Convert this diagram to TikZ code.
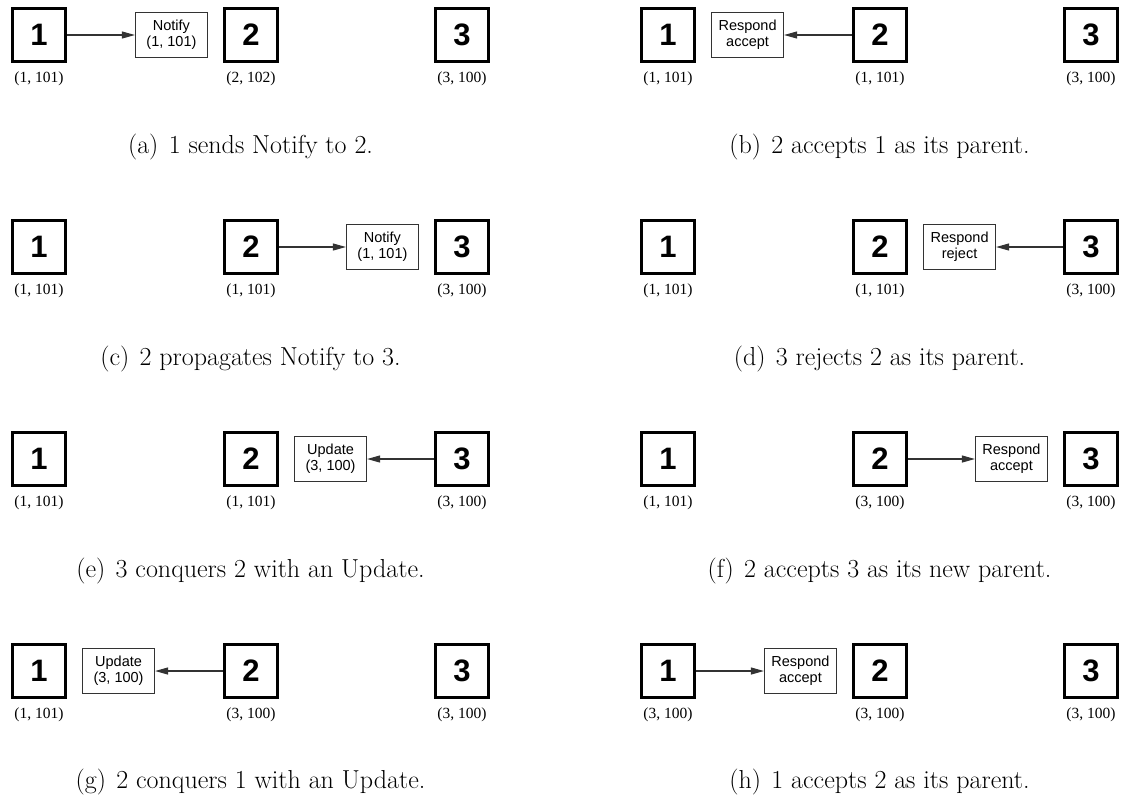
\documentclass[tikz,border=0pt]{standalone}
\usepackage{fontspec}
\newfontfamily\arialfont{Liberation Sans}
\newfontfamily\timesfont{Liberation Serif}
\usetikzlibrary{positioning,arrows.meta}
\definecolor{ndcinza}{HTML}{333333}
\tikzset{
  ndno/.style={draw=black, line width=2.7pt, minimum width=53.3pt, minimum height=53.3pt,
               inner sep=0pt, font=\arialfont\bfseries\fontsize{31}{31}\selectfont},
  ndmsg/.style={draw=ndcinza, line width=1.1pt, minimum width=72pt, minimum height=45pt,
               inner sep=3pt, align=center, font=\arialfont\fontsize{14.5}{16}\selectfont},
  ndseta/.style={-{Triangle[length=13pt,width=7pt]}, line width=1.1pt, draw=ndcinza},
  ndrotulo/.style={font=\timesfont\fontsize{15.5}{15.5}\selectfont, inner sep=0pt, anchor=north},
  ndlegenda/.style={font=\fontsize{26}{28}\selectfont, inner sep=0pt},
}
\newcommand{\sublabel}[1]{(#1)\hspace{0.4em}}

\begin{document}
\begin{tikzpicture}[x=1pt, y=1pt,
            lb/.style={ndrotulo, below=9pt of #1}
        ]
            \useasboundingbox (0,0) rectangle (1126,-796);
            % (a)
            \node[ndno] (a1) at (39,-35) {1};
            \node[ndno] (a2) at (251,-35) {2};
            \node[ndno] (a3) at (462,-35) {3};
            \node[lb=a1] (a1l) {(1, 101)};
            \node[lb=a2] (a2l) {(2, 102)};
            \node[lb=a3] (a3l) {(3, 100)};
            \node[ndmsg, left=15pt of a2] (am) {Notify\\(1, 101)};
            \draw[ndseta] (a1) -- (am);
            \node[ndlegenda] (ac) at (250.5,-147) {\sublabel{a}1 sends Notify to 2.};
            % (b)
            \node[ndno] (b1) at (668,-35) {1};
            \node[ndno] (b2) at (880,-35) {2};
            \node[ndno] (b3) at (1091,-35) {3};
            \node[lb=b1] (b1l) {(1, 101)};
            \node[lb=b2] (b2l) {(1, 101)};
            \node[lb=b3] (b3l) {(3, 100)};
            \node[ndmsg, right=15pt of b1] (bm) {Respond\\accept};
            \draw[ndseta] (b2) -- (bm);
            \node[ndlegenda] (bc) at (879.5,-147) {\sublabel{b}2 accepts 1 as its parent.};
            % (c)
            \node[ndno] (c1) at (39,-247) {1};
            \node[ndno] (c2) at (251,-247) {2};
            \node[ndno] (c3) at (462,-247) {3};
            \node[lb=c1] (c1l) {(1, 101)};
            \node[lb=c2] (c2l) {(1, 101)};
            \node[lb=c3] (c3l) {(3, 100)};
            \node[ndmsg, left=15pt of c3] (cm) {Notify\\(1, 101)};
            \draw[ndseta] (c2) -- (cm);
            \node[ndlegenda] (cc) at (250.5,-359) {\sublabel{c}2 propagates Notify to 3.};
            % (d)
            \node[ndno] (d1) at (668,-247) {1};
            \node[ndno] (d2) at (880,-247) {2};
            \node[ndno] (d3) at (1091,-247) {3};
            \node[lb=d1] (d1l) {(1, 101)};
            \node[lb=d2] (d2l) {(1, 101)};
            \node[lb=d3] (d3l) {(3, 100)};
            \node[ndmsg, right=15pt of d2] (dm) {Respond\\reject};
            \draw[ndseta] (d3) -- (dm);
            \node[ndlegenda] (dc) at (879.5,-359) {\sublabel{d}3 rejects 2 as its parent.};
            % (e)
            \node[ndno] (e1) at (39,-459) {1};
            \node[ndno] (e2) at (251,-459) {2};
            \node[ndno] (e3) at (462,-459) {3};
            \node[lb=e1] (e1l) {(1, 101)};
            \node[lb=e2] (e2l) {(1, 101)};
            \node[lb=e3] (e3l) {(3, 100)};
            \node[ndmsg, right=15pt of e2] (em) {Update\\(3, 100)};
            \draw[ndseta] (e3) -- (em);
            \node[ndlegenda] (ec) at (250.5,-571) {\sublabel{e}3 conquers 2 with an Update.};
            % (f)
            \node[ndno] (f1) at (668,-459) {1};
            \node[ndno] (f2) at (880,-459) {2};
            \node[ndno] (f3) at (1091,-459) {3};
            \node[lb=f1] (f1l) {(1, 101)};
            \node[lb=f2] (f2l) {(3, 100)};
            \node[lb=f3] (f3l) {(3, 100)};
            \node[ndmsg, left=15pt of f3] (fm) {Respond\\accept};
            \draw[ndseta] (f2) -- (fm);
            \node[ndlegenda] (fc) at (879.5,-571) {\sublabel{f}2 accepts 3 as its new parent.};
            % (g)
            \node[ndno] (g1) at (39,-671) {1};
            \node[ndno] (g2) at (251,-671) {2};
            \node[ndno] (g3) at (462,-671) {3};
            \node[lb=g1] (g1l) {(1, 101)};
            \node[lb=g2] (g2l) {(3, 100)};
            \node[lb=g3] (g3l) {(3, 100)};
            \node[ndmsg, right=15pt of g1] (gm) {Update\\(3, 100)};
            \draw[ndseta] (g2) -- (gm);
            \node[ndlegenda] (gc) at (250.5,-782) {\sublabel{g}2 conquers 1 with an Update.};
            % (h)
            \node[ndno] (h1) at (668,-671) {1};
            \node[ndno] (h2) at (880,-671) {2};
            \node[ndno] (h3) at (1091,-671) {3};
            \node[lb=h1] (h1l) {(3, 100)};
            \node[lb=h2] (h2l) {(3, 100)};
            \node[lb=h3] (h3l) {(3, 100)};
            \node[ndmsg, left=15pt of h2] (hm) {Respond\\accept};
            \draw[ndseta] (h1) -- (hm);
            \node[ndlegenda] (hc) at (879.5,-782) {\sublabel{h}1 accepts 2 as its parent.};
        \end{tikzpicture}
\end{document}
